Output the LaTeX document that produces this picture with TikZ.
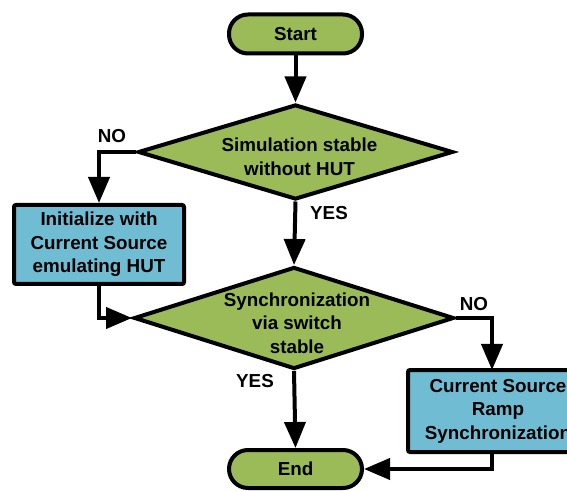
\documentclass[tikz,border=0pt]{standalone}
\usepackage{fontspec}
\setmainfont{Liberation Sans}
\usetikzlibrary{arrows.meta,shapes.geometric,calc}
\definecolor{fgreen}{HTML}{9BBB59}
\definecolor{fblue}{HTML}{70BDD3}
\begin{document}
\begin{tikzpicture}[x=1pt,y=1pt,
  every node/.style={font=\fontsize{18.8}{23.5}\selectfont\bfseries},
  term/.style={draw=black,line width=4pt,fill=fgreen,rounded corners=19pt,minimum width=133pt,minimum height=39pt,inner sep=0pt},
  proc/.style={draw=black,line width=4pt,fill=fblue,rounded corners=2pt,align=center,inner sep=0pt},
  dia/.style={draw=black,line width=4pt,fill=fgreen,diamond,inner sep=0pt,line join=miter},
  txt/.style={align=center,inner sep=0pt},
  lab/.style={inner sep=0pt},
  conn/.style={line width=4pt,-{Triangle[length=26pt,width=21pt]}}
]
\useasboundingbox (0,0) rectangle (567,490);
\node[term] (start) at (295.5,456) {Start};
\node[dia,minimum width=315pt,minimum height=95pt] (d1) at (295.5,338) {};
\node[txt] (d1t) at ($(d1.center)+(4,-5)$) {Simulation stable\\without HUT};
\node[proc,minimum width=170pt,minimum height=79pt] (init) at (99,245.5) {Initialize with\\Current Source\\emulating HUT};
\node[dia,minimum width=320pt,minimum height=102pt] (d2) at (294,172) {};
\node[txt] (d2t) at ($(d2.center)+(3,-5)$) {Synchronization\\via switch\\stable};
\node[proc,minimum width=184pt,minimum height=82pt] (cs) at (500,79) {};
\node[txt] (cst) at (498,79) {Current Source\\Ramp\\Synchronization};
\node[term,minimum height=38pt] (end) at (295.5,21) {End};
\node[lab] (no1) at (112,354) {NO};
\node[lab] (yes1) at (329,277) {YES};
\node[lab] (no2) at (474,186) {NO};
\node[lab] (yes2) at (255,109) {YES};
\coordinate (csin) at (492,120);
\coordinate (csout) at (492,38);
\draw[conn] (start.south) -- (d1.north);
\draw[conn] (d1.west) -| (init.north);
\draw[conn] (d1.south) -- (d2.north);
\draw[conn] (init.south) |- (d2.west);
\draw[conn] (d2.east) -| (csin);
\draw[conn] (d2.south) -- (end.north);
\draw[conn] (csout) |- (end.east);
\end{tikzpicture}
\end{document}
